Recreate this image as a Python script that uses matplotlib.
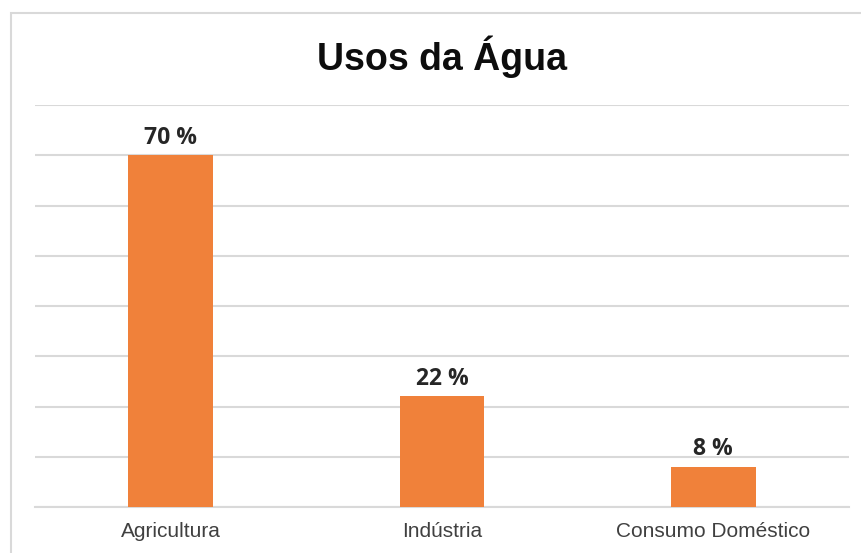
import matplotlib
matplotlib.use("Agg")
import matplotlib.pyplot as plt
from matplotlib.patches import Rectangle

categories = ["Agricultura", "Indústria", "Consumo Doméstico"]
values = [70, 22, 8]
value_labels = ["70 %", "22 %", "8 %"]
title = "Usos da Água"

W, H = 861, 553
fig = plt.figure(figsize=(W / 100, H / 100), dpi=100)
fig.patch.set_facecolor("white")

# outer frame
fig.add_artist(Rectangle((11 / W, -0.05), 1.0, (H - 13) / H + 0.05,
                         transform=fig.transFigure, fill=False,
                         edgecolor="#D9D9D9", lw=1.5))

ax = fig.add_axes([35 / W, (H - 507) / H, (849 - 35) / W, (507 - 105) / H])
x = list(range(len(categories)))
ax.bar(x, values, width=0.313, color="#F0813A", zorder=3)
ax.set_xlim(-0.5, len(categories) - 0.5)
ax.set_ylim(0, 80)
ax.set_yticks(range(0, 81, 10))
ax.yaxis.grid(True, color="#D9D9D9", lw=1.5)
ax.set_axisbelow(True)
ax.tick_params(axis="y", left=False, labelleft=False)
ax.tick_params(axis="x", bottom=False, pad=7)
ax.set_xticks(x)
ax.set_xticklabels(categories, fontsize=15, color="#404040", family="Liberation Sans")
for s in ["left", "right", "top"]:
    ax.spines[s].set_visible(False)
ax.spines["bottom"].set_color("#D9D9D9")
ax.spines["bottom"].set_linewidth(1.5)

for xi, v, lab in zip(x, values, value_labels):
    ax.annotate(lab, (xi, v), xytext=(0, 4), textcoords="offset points",
                ha="center", va="bottom", fontsize=16.5, fontweight="bold",
                color="#262626", family="Open Sans")

fig.text(442 / W, 1 - 57 / H, title, ha="center", va="center",
         fontsize=27, fontweight="bold", color="#0D0D0D", family="Liberation Sans")

fig.savefig("out.png", dpi=100)
